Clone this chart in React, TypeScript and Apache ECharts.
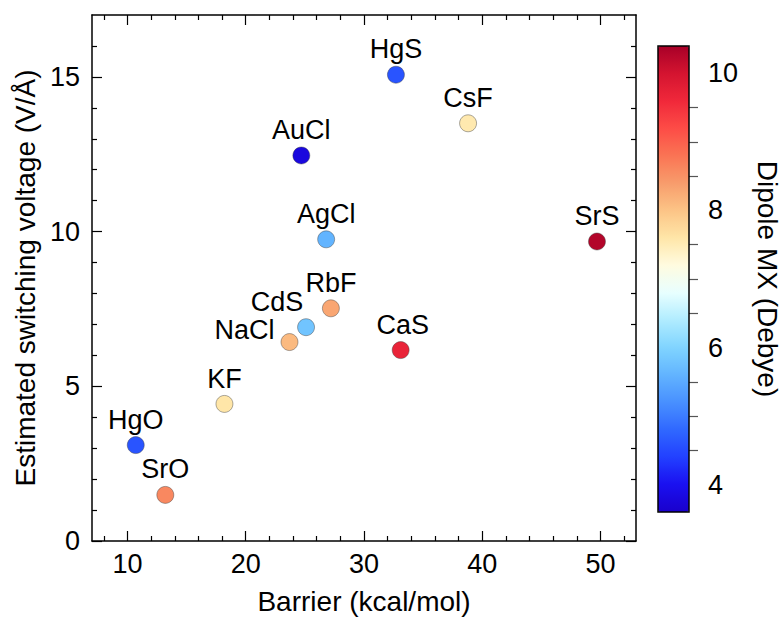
import React, { useEffect, useRef } from "react";
import * as echarts from "echarts";

const names = ["HgS", "CsF", "AuCl", "AgCl", "SrS", "RbF", "CdS", "NaCl", "CaS", "KF", "HgO", "SrO"];
const barrier = [32.7, 38.8, 24.7, 26.8, 49.7, 27.2, 25.1, 23.7, 33.1, 18.2, 10.7, 13.2];
const voltage = [15.07, 13.5, 12.46, 9.75, 9.68, 7.52, 6.91, 6.43, 6.17, 4.43, 3.1, 1.49];
const dipole = [4.6, 7.55, 3.8, 5.6, 10.3, 8.3, 5.8, 8.1, 9.7, 7.6, 4.6, 8.6];

const xMajorTicks = [10, 20, 30, 40, 50];
const xMinorTicks = [8, 12, 14, 16, 18, 22, 24, 26, 28, 32, 34, 36, 38, 42, 44, 46, 48, 52];
const yMajorTicks = [0, 5, 10, 15];
const yMinorTicks = [1, 2, 3, 4, 6, 7, 8, 9, 11, 12, 13, 14, 16];
const cbMajorTicks = [4, 6, 8, 10];
const cbMinorTicks = [4.5, 5, 5.5, 6.5, 7, 7.5, 8.5, 9, 9.5];

const colorStops = [
  "#1a00cc",
  "#1a10f0",
  "#2240ff",
  "#3068ff",
  "#4890ff",
  "#62b4ff",
  "#80d4ff",
  "#b0ecff",
  "#e8ffff",
  "#fffbe0",
  "#ffe6a8",
  "#fcc486",
  "#f89c6c",
  "#fa7454",
  "#fd4c46",
  "#f0283a",
  "#d41430",
  "#a80028",
];

const FONT = "'Liberation Sans', Arial, sans-serif";
const TICK_FS = 27;
const LABEL_FS = 27;
const NAME_FS = 28;

export default function App() {
  const ref = useRef<HTMLDivElement>(null);
  useEffect(() => {
    if (!ref.current) return;
    const chart = echarts.init(ref.current, null, { renderer: "svg" });
    const xMin = 7, xMax = 53, yMin = 0, yMax = 17, cMin = 3.6, cMax = 10.4;

    const labelShift: Record<string, number[]> = {
      CdS: [-29, 0],
      NaCl: [-45, 13],
      CaS: [2, 0],
    };

    const data = names.map((n, i) => ({
      value: [barrier[i], voltage[i], dipole[i]],
      name: n,
      label: { offset: labelShift[n] || [0, 0] },
    }));

    const tickStyle = { color: "#000", width: 1.2 };
    const mkX = (pos: string, major: boolean, withLabel: boolean): any => ({
      type: "value",
      gridIndex: 0,
      position: pos,
      min: xMin,
      max: xMax,
      splitLine: { show: false },
      axisLine: { show: major, onZero: false, lineStyle: { color: "#000", width: 1.5 } },
      axisTick: {
        show: true,
        inside: true,
        length: major ? 10 : 5,
        customValues: major ? xMajorTicks : xMinorTicks,
        lineStyle: tickStyle,
      },
      axisLabel: withLabel
        ? { show: true, customValues: xMajorTicks, fontSize: TICK_FS, color: "#000", margin: 9, fontFamily: FONT }
        : { show: false },
      name: withLabel ? "Barrier (kcal/mol)" : "",
      nameLocation: "middle",
      nameGap: 46,
      nameTextStyle: { fontSize: NAME_FS, color: "#000", fontFamily: FONT },
    });
    const mkY = (pos: string, major: boolean, withLabel: boolean): any => ({
      type: "value",
      gridIndex: 0,
      position: pos,
      min: yMin,
      max: yMax,
      splitLine: { show: false },
      axisLine: { show: major, onZero: false, lineStyle: { color: "#000", width: 1.5 } },
      axisTick: {
        show: true,
        inside: true,
        length: major ? 10 : 5,
        customValues: major ? yMajorTicks : yMinorTicks,
        lineStyle: tickStyle,
      },
      axisLabel: withLabel
        ? { show: true, customValues: yMajorTicks, fontSize: TICK_FS, color: "#000", margin: 12, fontFamily: FONT }
        : { show: false },
      name: withLabel ? "Estimated switching voltage (V/Å)" : "",
      nameLocation: "middle",
      nameGap: 50,
      nameTextStyle: { fontSize: NAME_FS, color: "#000", fontFamily: FONT },
    });
    const mkCb = (major: boolean): any => ({
      type: "value",
      gridIndex: 1,
      position: "right",
      min: cMin,
      max: cMax,
      splitLine: { show: false },
      axisLine: { show: false },
      axisTick: {
        show: true,
        inside: false,
        length: major ? 17 : 9,
        customValues: major ? cbMajorTicks : cbMinorTicks,
        lineStyle: { color: "#555", width: 1.2 },
      },
      axisLabel: major
        ? { show: true, customValues: cbMajorTicks, fontSize: TICK_FS, color: "#000", margin: 19, fontFamily: FONT }
        : { show: false },
      name: major ? "Dipole MX (Debye)" : "",
      nameLocation: "middle",
      nameRotate: -90,
      nameGap: 64,
      nameTextStyle: { fontSize: NAME_FS, color: "#000", fontFamily: FONT },
    });

    const option: any = {
      animation: false,
      backgroundColor: "#fff",
      textStyle: { fontFamily: FONT },
      grid: [
        { left: 92, top: 15, width: 544, height: 528, containLabel: false },
        {
          left: 658,
          top: 46,
          width: 31,
          height: 466,
          show: true,
          backgroundColor: "transparent",
          borderColor: "#000",
          borderWidth: 1.5,
          z: 10,
          containLabel: false,
        },
      ],
      xAxis: [
        mkX("bottom", true, true),
        mkX("bottom", false, false),
        mkX("top", true, false),
        mkX("top", false, false),
        { type: "value", gridIndex: 1, show: false, min: 0, max: 1 },
      ],
      yAxis: [
        mkY("left", true, true),
        mkY("left", false, false),
        mkY("right", true, false),
        mkY("right", false, false),
        mkCb(true),
        mkCb(false),
      ],
      visualMap: {
        type: "continuous",
        min: cMin,
        max: cMax,
        dimension: 2,
        seriesIndex: 0,
        calculable: false,
        orient: "vertical",
        left: 658,
        top: 46,
        itemWidth: 31,
        itemHeight: 466,
        padding: 0,
        text: null,
        showLabel: false,
        hoverLink: false,
        inRange: { color: colorStops },
      },
      series: [
        {
          type: "scatter",
          xAxisIndex: 0,
          yAxisIndex: 0,
          symbol: "circle",
          symbolSize: 17,
          itemStyle: { borderColor: "rgba(60,60,60,0.55)", borderWidth: 0.8, opacity: 1 },
          label: {
            show: true,
            position: "top",
            distance: 3,
            formatter: (p: any) => p.name,
            fontSize: LABEL_FS,
            color: "#000",
            fontFamily: FONT,
          },
          data,
        },
      ],
    };
    chart.setOption(option);
    return () => chart.dispose();
  }, []);
  return (
    <div
      ref={ref}
      style={{ position: "fixed", left: 0, top: 0, width: 784, height: 620, background: "#fff" }}
    />
  );
}
